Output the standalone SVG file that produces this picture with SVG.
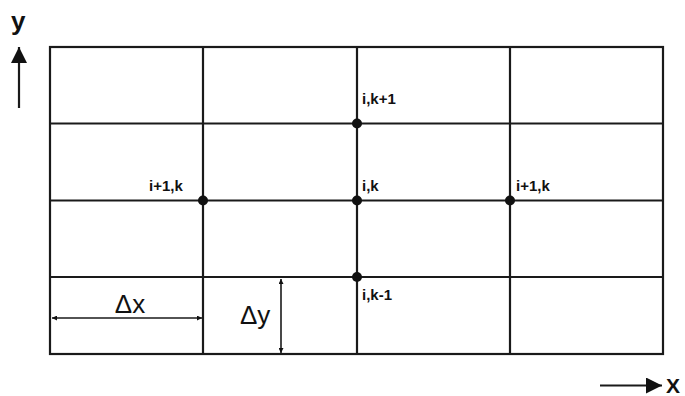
<svg xmlns="http://www.w3.org/2000/svg" width="685" height="396" viewBox="0 0 685 396">
<style>
.g{stroke:#1a1a1a;stroke-width:2.2;fill:none}
.d{stroke:#1a1a1a;stroke-width:1.6;fill:none}
.lbl{font-family:"Liberation Sans",Arial,sans-serif;font-weight:bold;font-size:15px;fill:#111}
.big{font-family:"Liberation Sans",Arial,sans-serif;font-size:26px;fill:#111}
.dot{fill:#111}
</style>
<defs>
<marker id="ah" viewBox="0 0 10 10" refX="10" refY="5" markerWidth="5" markerHeight="5" markerUnits="userSpaceOnUse" orient="auto-start-reverse"><path d="M0,0 L10,5 L0,10 z" fill="#111"/></marker>
<marker id="big" viewBox="0 0 10 10" refX="10" refY="5" markerWidth="16" markerHeight="16" markerUnits="userSpaceOnUse" orient="auto"><path d="M0,0 L10,5 L0,10 z" fill="#111"/></marker>
</defs>
<g id="grid">
<rect class="g" x="50" y="47" width="613" height="307"/>
<line class="g" x1="203" y1="47" x2="203" y2="354"/>
<line class="g" x1="357" y1="47" x2="357" y2="354"/>
<line class="g" x1="510" y1="47" x2="510" y2="354"/>
<line class="g" x1="50" y1="123.5" x2="663" y2="123.5"/>
<line class="g" x1="50" y1="200.5" x2="663" y2="200.5"/>
<line class="g" x1="50" y1="277" x2="663" y2="277"/>
</g>
<g id="axes">
<line class="g" x1="19" y1="108" x2="19" y2="47" marker-end="url(#big)"/>
<text class="big" x="11" y="30" style="font-weight:bold">y</text>
<line class="g" x1="600" y1="385.5" x2="662" y2="385.5" marker-end="url(#big)"/>
<text class="big" x="666" y="393" style="font-size:21px;font-weight:bold">X</text>
</g>
<g id="dims">
<line class="d" x1="52" y1="318" x2="202" y2="318" marker-start="url(#ah)" marker-end="url(#ah)"/>
<text class="big" x="130" y="313" text-anchor="middle">Δx</text>
<line class="d" x1="281" y1="279" x2="281" y2="353" marker-start="url(#ah)" marker-end="url(#ah)"/>
<text class="big" x="240" y="324">Δy</text>
</g>
<g id="n-ik1"><circle class="dot" cx="357" cy="123.5" r="5"/><text class="lbl" x="362" y="104">i,k+1</text></g>
<g id="n-left"><circle class="dot" cx="203" cy="200.5" r="5"/><text class="lbl" x="149" y="191">i+1,k</text></g>
<g id="n-ik"><circle class="dot" cx="357" cy="200.5" r="5"/><text class="lbl" x="362" y="191">i,k</text></g>
<g id="n-right"><circle class="dot" cx="510" cy="200.5" r="5"/><text class="lbl" x="516" y="191">i+1,k</text></g>
<g id="n-ikm1"><circle class="dot" cx="357" cy="277" r="5"/><text class="lbl" x="362" y="300">i,k-1</text></g>
</svg>
